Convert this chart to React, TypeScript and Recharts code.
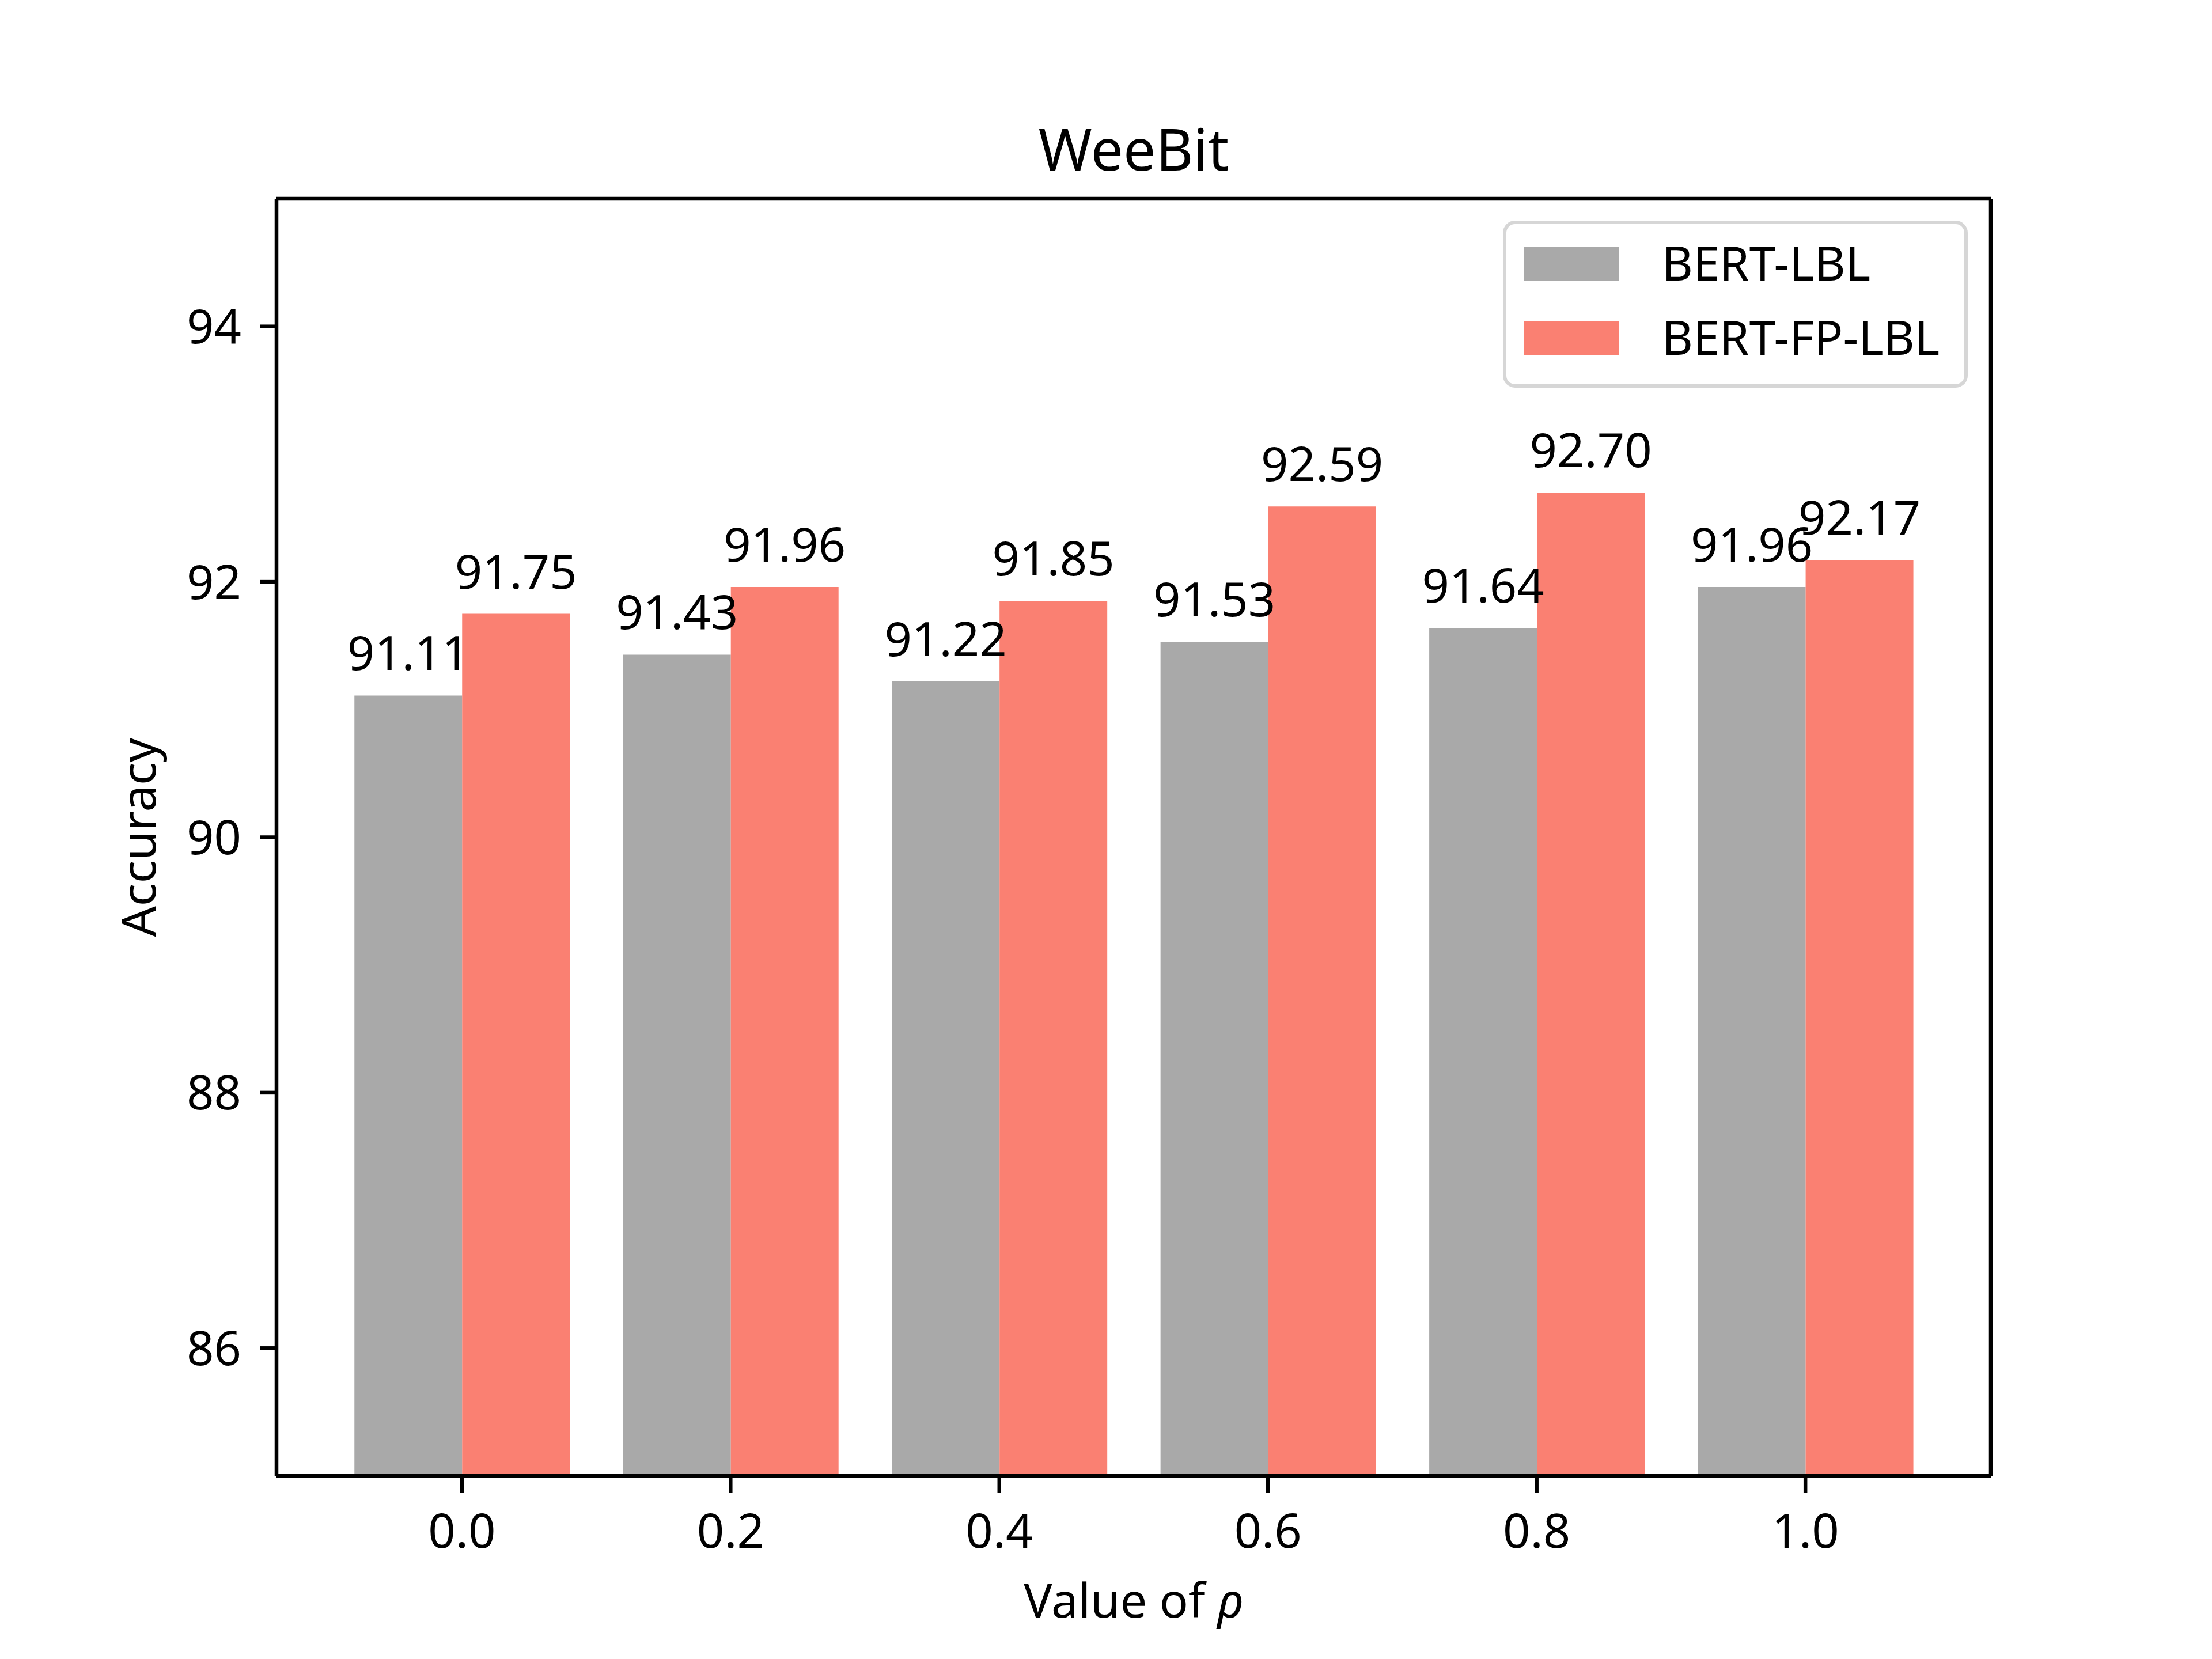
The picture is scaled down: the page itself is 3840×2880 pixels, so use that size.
import React from "react";
import { BarChart, Bar, XAxis, YAxis, Legend, LabelList, Label } from "recharts";

const rhoValues = ["0.0", "0.2", "0.4", "0.6", "0.8", "1.0"];
const bertLbl = [91.11, 91.43, 91.22, 91.53, 91.64, 91.96];
const bertFpLbl = [91.75, 91.96, 91.85, 92.59, 92.7, 92.17];
const yTicks = [86, 88, 90, 92, 94];
const seriesNames = ["BERT-LBL", "BERT-FP-LBL"];
const seriesColors = ["#a9a9a9", "#fa8072"];

const data = rhoValues.map((rho, i) => ({
  rho,
  lbl: bertLbl[i],
  fpLbl: bertFpLbl[i],
}));

const FONT = "'Noto Sans', 'Open Sans', sans-serif";
const LINE = { stroke: "#000", strokeWidth: 6.5 };

// legend drawn like matplotlib's framed legend, in series order
function LegendBox() {
  return (
    <svg width={807} height={290} style={{ display: "block" }}>
      <rect
        x={3}
        y={3}
        width={801}
        height={284}
        rx={18}
        fill="#fff"
        fillOpacity={0.8}
        stroke="#d6d6d6"
        strokeWidth={6}
      />
      {seriesNames.map((name, i) => (
        <g key={name}>
          <rect x={36} y={45 + i * 129} width={166} height={59} fill={seriesColors[i]} />
          <text x={276} y={104 + i * 129} fontSize={83} fontFamily={FONT} fill="#000">
            {name}
          </text>
        </g>
      ))}
    </svg>
  );
}

export default function App() {
  return (
    <div style={{ position: "absolute", left: 0, top: 0, background: "#fff" }}>
      <BarChart
        width={3840}
        height={2880}
        data={data}
        margin={{ top: 344, right: 383, bottom: 0, left: 0 }}
        barGap={0}
        barCategoryGap="10%"
        style={{ fontFamily: FONT }}
      >
        <XAxis
          dataKey="rho"
          height={318}
          padding={{ left: 88.6, right: 88.6 }}
          tick={{ fill: "#000", fontSize: 83 }}
          tickSize={29}
          tickMargin={37}
          tickLine={LINE}
          axisLine={LINE}
        >
          <Label
            content={(p: any) => {
              const vb = p.viewBox;
              return (
                <text
                  x={vb.x + vb.width / 2}
                  y={vb.y + 246}
                  textAnchor="middle"
                  fontSize={83}
                  fontFamily={FONT}
                  fill="#000"
                >
                  Value of <tspan fontStyle="italic">ρ</tspan>
                </text>
              );
            }}
          />
        </XAxis>
        <XAxis
          xAxisId="top"
          dataKey="rho"
          orientation="top"
          height={1}
          padding={{ left: 88.6, right: 88.6 }}
          tick={false}
          tickLine={false}
          axisLine={LINE}
        >
          <Label
            content={(p: any) => {
              const vb = p.viewBox;
              return (
                <text
                  x={vb.x + vb.width / 2}
                  y={296}
                  textAnchor="middle"
                  fontSize={100}
                  fontFamily={FONT}
                  fill="#000"
                >
                  WeeBit
                </text>
              );
            }}
          />
        </XAxis>
        <YAxis
          width={480}
          domain={[85, 95]}
          ticks={yTicks}
          allowDataOverflow
          tick={{ fill: "#000", fontSize: 83 }}
          tickSize={29}
          tickMargin={32}
          tickLine={LINE}
          axisLine={LINE}
        >
          <Label
            content={(p: any) => {
              const vb = p.viewBox;
              const cy = vb.y + vb.height / 2;
              return (
                <text
                  x={270}
                  y={cy}
                  transform={`rotate(-90, 270, ${cy})`}
                  textAnchor="middle"
                  fontSize={83}
                  fontFamily={FONT}
                  fill="#000"
                >
                  Accuracy
                </text>
              );
            }}
          />
        </YAxis>
        <YAxis
          yAxisId="right"
          orientation="right"
          width={1}
          domain={[85, 95]}
          tick={false}
          tickLine={false}
          axisLine={LINE}
        />
        <Legend
          layout="vertical"
          align="center"
          verticalAlign="middle"
          content={LegendBox}
          wrapperStyle={{ left: 2609, top: 383, width: 807, height: 290 }}
        />
        <Bar dataKey="lbl" name={seriesNames[0]} fill={seriesColors[0]} isAnimationActive={false}>
          <LabelList
            dataKey="lbl"
            position="top"
            offset={44}
            fill="#000"
            fontSize={83}
            fontFamily={FONT}
            formatter={(v: any) => Number(v).toFixed(2)}
          />
        </Bar>
        <Bar dataKey="fpLbl" name={seriesNames[1]} fill={seriesColors[1]} isAnimationActive={false}>
          <LabelList
            dataKey="fpLbl"
            position="top"
            offset={44}
            fill="#000"
            fontSize={83}
            fontFamily={FONT}
            formatter={(v: any) => Number(v).toFixed(2)}
          />
        </Bar>
      </BarChart>
    </div>
  );
}
